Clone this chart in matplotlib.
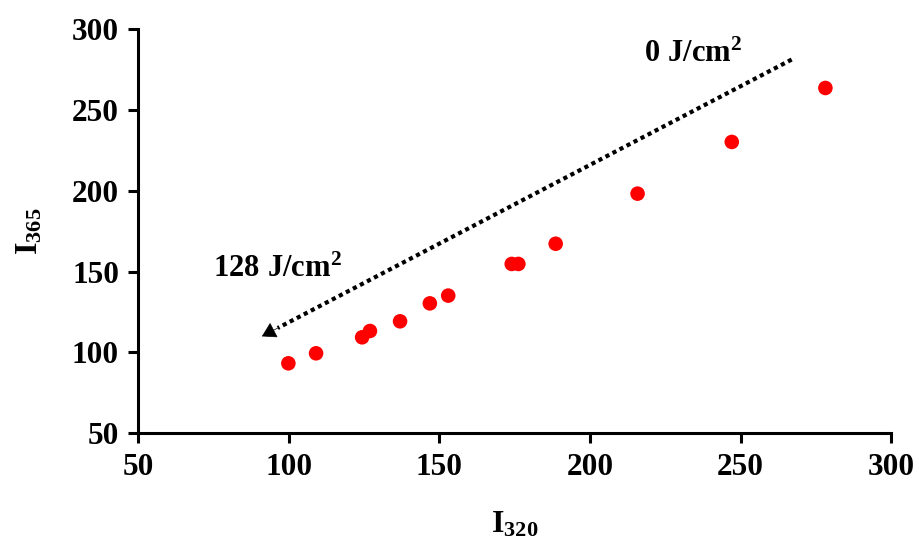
import numpy as np
import matplotlib
matplotlib.use("Agg")
import matplotlib.pyplot as plt

plt.rcParams['font.family'] = ['Liberation Serif', 'DejaVu Serif']
plt.rcParams['font.weight'] = 'bold'
plt.rcParams['mathtext.fontset'] = 'custom'
plt.rcParams['mathtext.rm'] = 'Liberation Serif:bold'
plt.rcParams['mathtext.it'] = 'Liberation Serif:bold'
plt.rcParams['mathtext.bf'] = 'Liberation Serif:bold'

# data
i320 = [99.8, 109.0, 124.3, 126.9, 136.9, 146.8, 152.9, 174.0, 176.2, 188.6, 215.8, 247.1, 278.2]
i365 = [93.3, 99.5, 109.4, 113.3, 119.3, 130.4, 135.2, 154.8, 154.8, 167.3, 198.3, 230.3, 263.7]
ticks = [50, 100, 150, 200, 250, 300]

# fluence arrow (0 -> 128 J/cm2)
arrow_x = [267, 91]
arrow_y = [281.3, 110]

fig = plt.figure(figsize=(9.2, 5.47), dpi=100)
ax = fig.add_axes([0.1505, 0.2079, 0.818, 0.7385])

ax.scatter(i320, i365, s=110, color='#ff0000', edgecolors='none', zorder=3)

# dotted shaft stops just inside the head, then a solid filled head
frac = 0.03
mid_x = arrow_x[1] + frac * (arrow_x[0] - arrow_x[1])
mid_y = arrow_y[1] + frac * (arrow_y[0] - arrow_y[1])
ax.plot([arrow_x[0], mid_x], [arrow_y[0], mid_y], color='black', lw=3,
        linestyle=(0, (1, 0.9)), dash_capstyle='butt')
ax.annotate('', xy=(arrow_x[1], arrow_y[1]), xytext=(mid_x, mid_y),
            arrowprops=dict(arrowstyle='-|>,head_length=0.75,head_width=0.45',
                            mutation_scale=12, lw=0.5, color='black',
                            shrinkA=0, shrinkB=0))
ax.text(234.3, 279.8, r'$\mathbf{0\ J/cm^2}$', fontsize=22, ha='center', va='baseline')
ax.text(96.1, 146.7, r'$\mathbf{128\ J/cm^2}$', fontsize=22, ha='center', va='baseline')

ax.set_xlim(50, 300)
ax.set_ylim(50, 300)
ax.set_xticks(ticks)
ax.set_yticks(ticks)
ax.tick_params(labelsize=22.5, width=2.2, length=7, direction='out', pad=7)
for lab in ax.get_xticklabels() + ax.get_yticklabels():
    lab.set_fontweight('bold')

for s in ['top', 'right']:
    ax.spines[s].set_visible(False)
for s in ['left', 'bottom']:
    ax.spines[s].set_linewidth(2.2)

ax.set_xlabel(r'$\mathbf{I_{320}}$', fontsize=23, labelpad=20)
ax.set_ylabel(r'$\mathbf{I_{365}}$', fontsize=23, labelpad=20)

fig.savefig('out.png', dpi=100)
